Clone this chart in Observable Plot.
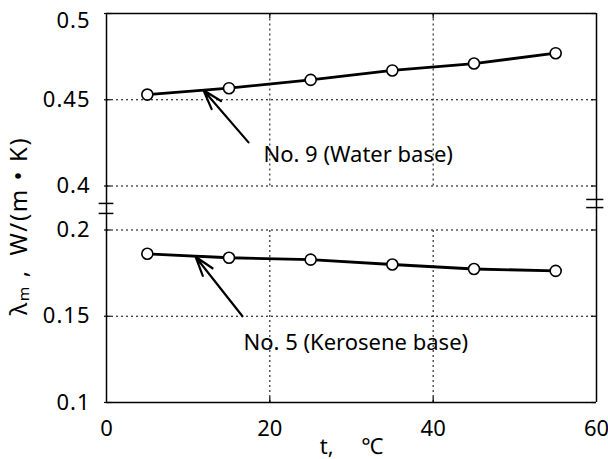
<!DOCTYPE html>
<html>
<head>
<meta charset="utf-8">
<script src="https://cdn.jsdelivr.net/npm/d3@7"></script>
<script src="https://cdn.jsdelivr.net/npm/@observablehq/plot@0.6"></script>
<style>
  html, body { margin: 0; padding: 0; background: #fff; }
  #chart svg { display: block; }
</style>
</head>
<body>
<div id="chart"></div>
<script>
// ---- data ----
const temps = [5, 15, 25, 35, 45, 55];
const water = [0.453, 0.4567, 0.4615, 0.467, 0.471, 0.477];
const kerosene = [0.1862, 0.1839, 0.1828, 0.1800, 0.1774, 0.1763];
const xTicks = [0, 20, 40, 60];
const yTicks = [0.1, 0.15, 0.2, 0.4, 0.45];
const yTickLabels = ["0.1", "0.15", "0.2", "0.4", "0.45"];
const yTopLabel = "0.5";
const allYTicks = [0.1, 0.15, 0.2, 0.4, 0.45, 0.5];
const gridY = [0.15, 0.2, 0.4, 0.45];
const gridX = [20, 40];
const waterLabel = "No. 9 (Water base)";
const keroseneLabel = "No. 5 (Kerosene base)";
const xTitle = "t,\u2003 \u2103";
const yTitle = "\u03bb\u2098 ,\u2002W/(m \u2022 K)";

// broken axis: values 0.2..0.4 are cut out, leaving a small gap
const GAP = 0.0255;
const ys = v => (v > 0.3 ? v - 0.2 + GAP : v);

const waterRows = temps.map((t, i) => ({t, v: ys(water[i])}));
const keroRows = temps.map((t, i) => ({t, v: ys(kerosene[i])}));

const font = "'Noto Sans', 'DejaVu Sans', sans-serif";
const dotted = "2,3";
const yLowTop = ys(0.2), yHighBottom = ys(0.4), yTop = ys(0.5), yBottom = 0.1;

const chart = Plot.plot({
  width: 608,
  height: 459,
  marginLeft: 106,
  marginRight: 12,
  marginTop: 13,
  marginBottom: 57,
  style: {fontFamily: font, fontSize: "22px", color: "#000", background: "#fff"},
  x: {domain: [0, 60]},
  y: {domain: [yBottom, yTop]},
  marks: [
    // dotted grid
    Plot.ruleY(gridY.map(ys), {stroke: "#000", strokeWidth: 1, strokeDasharray: dotted}),
    Plot.ruleX(gridX, {y1: yHighBottom, y2: yTop, stroke: "#000", strokeWidth: 1, strokeDasharray: dotted}),
    Plot.ruleX(gridX, {y1: yBottom, y2: yLowTop, stroke: "#000", strokeWidth: 1, strokeDasharray: dotted}),
    // frame
    Plot.ruleY([yBottom, yTop], {x1: 0, x2: 60, stroke: "#000", strokeWidth: 1.5}),
    Plot.ruleX([0, 60], {y1: yBottom, y2: yTop, stroke: "#000", strokeWidth: 1.5}),
    // inward ticks
    Plot.ruleY(allYTicks.map(ys), {x1: -0.25, x2: 0.6, stroke: "#000", strokeWidth: 1.2}),
    Plot.ruleY(allYTicks.map(ys), {x1: 59.4, x2: 60, stroke: "#000", strokeWidth: 1.2}),
    Plot.ruleX(gridX, {y1: yBottom, y2: yBottom + 0.003, stroke: "#000", strokeWidth: 1.2}),
    Plot.ruleX(gridX, {y1: yTop - 0.003, y2: yTop, stroke: "#000", strokeWidth: 1.2}),
    // axis break marks
    Plot.ruleY([yLowTop + 0.0096, yLowTop + 0.0154], {x1: -0.9, x2: 0.9, stroke: "#000", strokeWidth: 1.5}),
    Plot.ruleY([yLowTop + 0.013, yLowTop + 0.0177], {x1: 58.8, x2: 60.9, stroke: "#000", strokeWidth: 1.5}),
    // axes labels
    Plot.axisY({ticks: yTicks.map(ys), tickSize: 0, tickPadding: 16,
      tickFormat: (d, i) => yTickLabels[i], fontSize: 22, label: null}),
    Plot.text([yTopLabel], {frameAnchor: "top-left", dx: -16, dy: 7, textAnchor: "end", lineAnchor: "middle", fontSize: 22}),
    Plot.axisX({ticks: xTicks, tickSize: 0, tickPadding: 18, tickFormat: d => String(d), fontSize: 22, label: null}),
    Plot.text([xTitle], {frameAnchor: "bottom", dy: 44, fontSize: 22, textAnchor: "middle", lineAnchor: "middle"}),
    Plot.text([yTitle], {frameAnchor: "left", dx: -86.7, dy: 18, rotate: -90, fontSize: 24, textAnchor: "middle", lineAnchor: "middle"}),
    // series
    Plot.line(waterRows, {x: "t", y: "v", stroke: "#000", strokeWidth: 2.8}),
    Plot.line(keroRows, {x: "t", y: "v", stroke: "#000", strokeWidth: 2.8}),
    Plot.dot(waterRows, {x: "t", y: "v", r: 5.5, fill: "#fff", stroke: "#000", strokeWidth: 1.6}),
    Plot.dot(keroRows, {x: "t", y: "v", r: 5.5, fill: "#fff", stroke: "#000", strokeWidth: 1.6}),
    // annotations
    Plot.arrow([{x1: 17.39, y1: ys(0.4253), x2: 11.88, y2: ys(0.4555)}], {x1: "x1", y1: "y1", x2: "x2", y2: "y2", stroke: "#000", strokeWidth: 2.2, headLength: 14, headAngle: 35}),
    Plot.arrow([{x1: 16.65, y1: ys(0.150), x2: 10.9, y2: ys(0.1845)}], {x1: "x1", y1: "y1", x2: "x2", y2: "y2", stroke: "#000", strokeWidth: 2.2, headLength: 14, headAngle: 35}),
    Plot.text([waterLabel], {x: 19.22, y: ys(0.4178), textAnchor: "start", lineAnchor: "middle", fontSize: 22}),
    Plot.text([keroseneLabel], {x: 16.78, y: ys(0.1345), textAnchor: "start", lineAnchor: "middle", fontSize: 22})
  ]
});

// wider letter spacing, like the reference's typeface
d3.select(chart).selectAll("text").each(function () {
  const s = this.textContent;
  if (s === yTitle) this.style.letterSpacing = "1.6px";
  else if (yTickLabels.includes(s) || s === yTopLabel) this.style.letterSpacing = "1px";
});

document.getElementById("chart").appendChild(chart);
</script>
</body>
</html>
